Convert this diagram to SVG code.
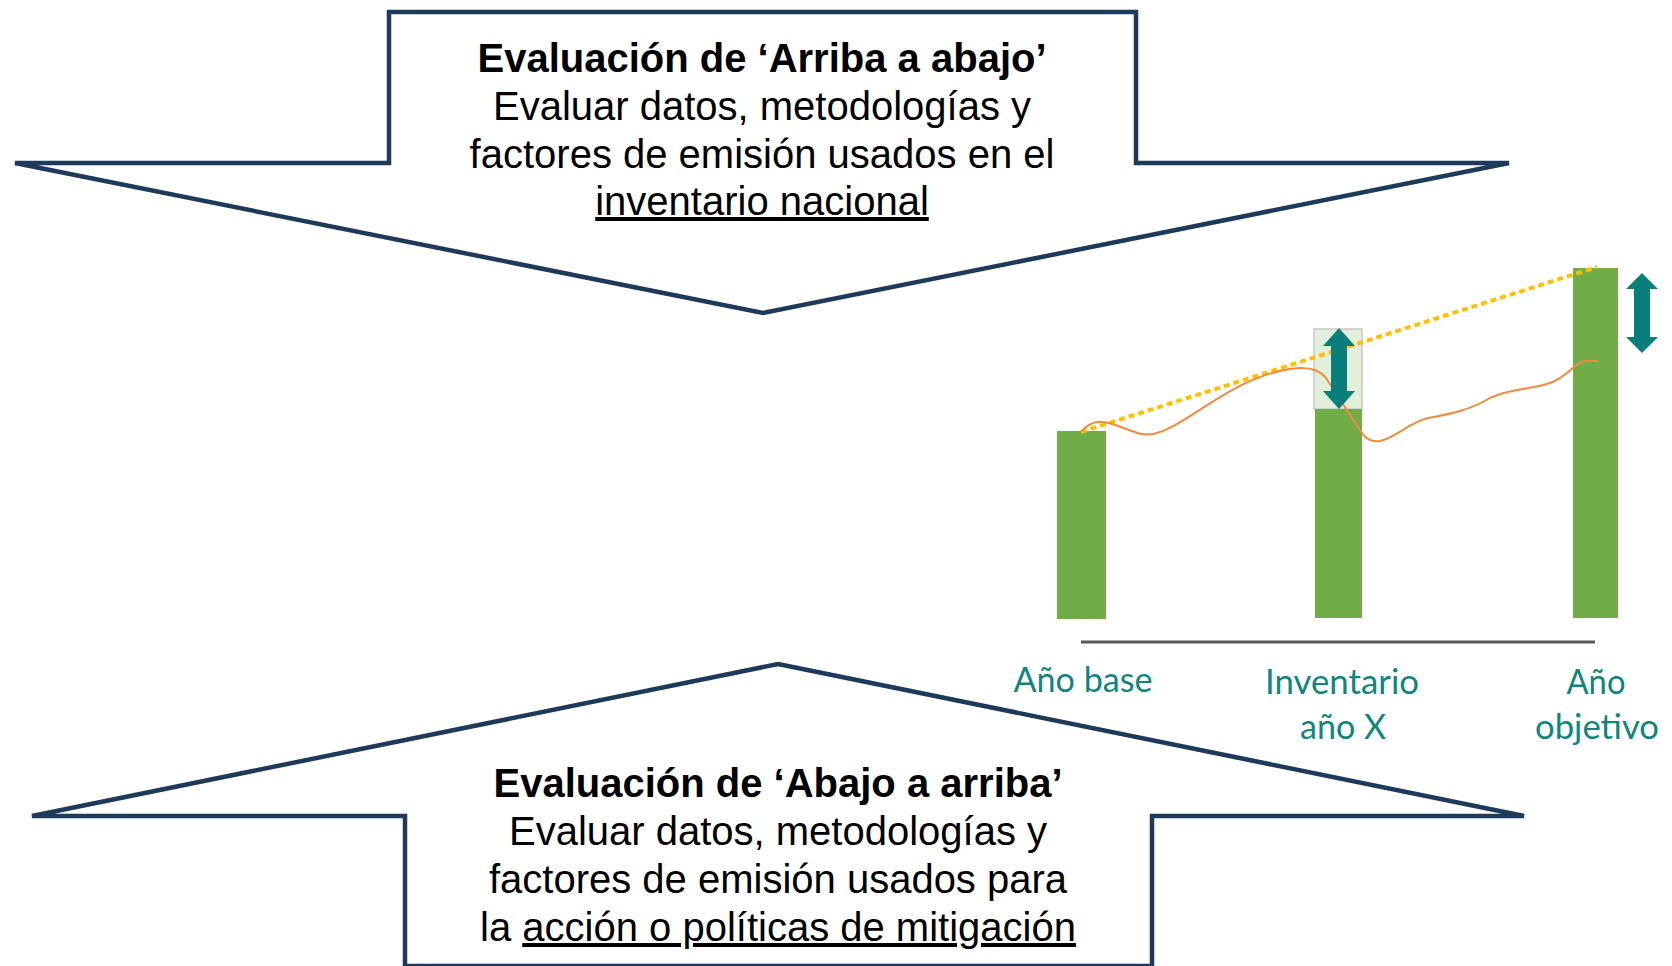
<svg xmlns="http://www.w3.org/2000/svg" width="1672" height="966" viewBox="0 0 1672 966">
  <style>
    .arrow { fill: #ffffff; stroke: #1D3A5A; stroke-width: 4.5; stroke-linejoin: miter; }
    .t { font-family: "Liberation Sans", Arial, sans-serif; font-size: 40px; fill: #000000; text-anchor: middle; }
    .b { font-weight: bold; }
    .u { text-decoration: underline; }
    .bar { fill: #70AD47; }
    .lbl { font-family: Lato, "Open Sans", sans-serif; font-size: 35px; fill: #0F857E; text-anchor: middle; }
    .teal { fill: #0A7E7A; }
  </style>
  <rect width="1672" height="966" fill="#ffffff"/>

  <g id="top-arrow">
    <polygon class="arrow" points="389,12 1136,12 1136,163 1509,163 763,313 15,163 389,163"/>
    <text class="t b" x="762" y="72">Evaluación de ‘Arriba a abajo’</text>
    <text class="t" x="762" y="120">Evaluar datos, metodologías y</text>
    <text class="t" x="762" y="168">factores de emisión usados en el</text>
    <text class="t u" x="762" y="215">inventario nacional</text>
  </g>

  <g id="bottom-arrow">
    <polygon class="arrow" points="778,664 1524,816 1152,816 1152,966 405,966 405,816 32,816"/>
    <text class="t b" x="778" y="797">Evaluación de ‘Abajo a arriba’</text>
    <text class="t" x="778" y="845">Evaluar datos, metodologías y</text>
    <text class="t" x="778" y="893">factores de emisión usados para</text>
    <text class="t" x="778" y="941">la <tspan class="u">acción o políticas de mitigación</tspan></text>
  </g>

  <g id="chart">
    <rect class="bar" x="1057" y="431" width="49" height="188"/>
    <rect x="1314" y="329" width="48" height="80" fill="#E2EFDA" stroke="#C8C8C8" stroke-width="1.5"/>
    <rect class="bar" x="1315" y="409" width="47" height="209"/>
    <rect class="bar" x="1573" y="268" width="45" height="350"/>
    <line x1="1081" y1="642" x2="1595" y2="642" stroke="#595959" stroke-width="3"/>
  </g>

  <g id="connectors">
    <line x1="1081" y1="432" x2="1597" y2="267" stroke="#FFC000" stroke-width="4" stroke-dasharray="6 4"/>
    <path d="M1081,432 C1088,424 1095,421 1102,422 C1120,423 1135,437 1153,434 C1185,428 1230,378 1290,369 C1310,366 1320,370 1326,378 C1335,392 1350,415 1360,430 C1366,440 1372,442 1380,441 C1395,438 1410,422 1428,418 C1450,414 1470,410 1490,398 C1510,388 1530,390 1550,383 C1568,377 1575,362 1585,361 L1598,361" fill="none" stroke="#F08A3E" stroke-width="2"/>
    <polygon class="teal" points="1339,328 1323,346 1331,346 1331,391 1323,391 1339,409 1355,391 1347,391 1347,346 1355,346"/>
    <polygon class="teal" points="1642,273 1626,289 1634,289 1634,337 1626,337 1642,353 1658,337 1650,337 1650,289 1658,289"/>
  </g>

  <g id="labels">
    <text class="lbl" x="1083" y="692" textLength="139" lengthAdjust="spacingAndGlyphs">Año base</text>
    <text class="lbl" x="1342" y="694" textLength="154" lengthAdjust="spacingAndGlyphs">Inventario</text>
    <text class="lbl" x="1343" y="739" textLength="86" lengthAdjust="spacingAndGlyphs">año X</text>
    <text class="lbl" x="1596" y="694" textLength="59" lengthAdjust="spacingAndGlyphs">Año</text>
    <text class="lbl" x="1597" y="739" textLength="124" lengthAdjust="spacingAndGlyphs">objetivo</text>
  </g>
</svg>
